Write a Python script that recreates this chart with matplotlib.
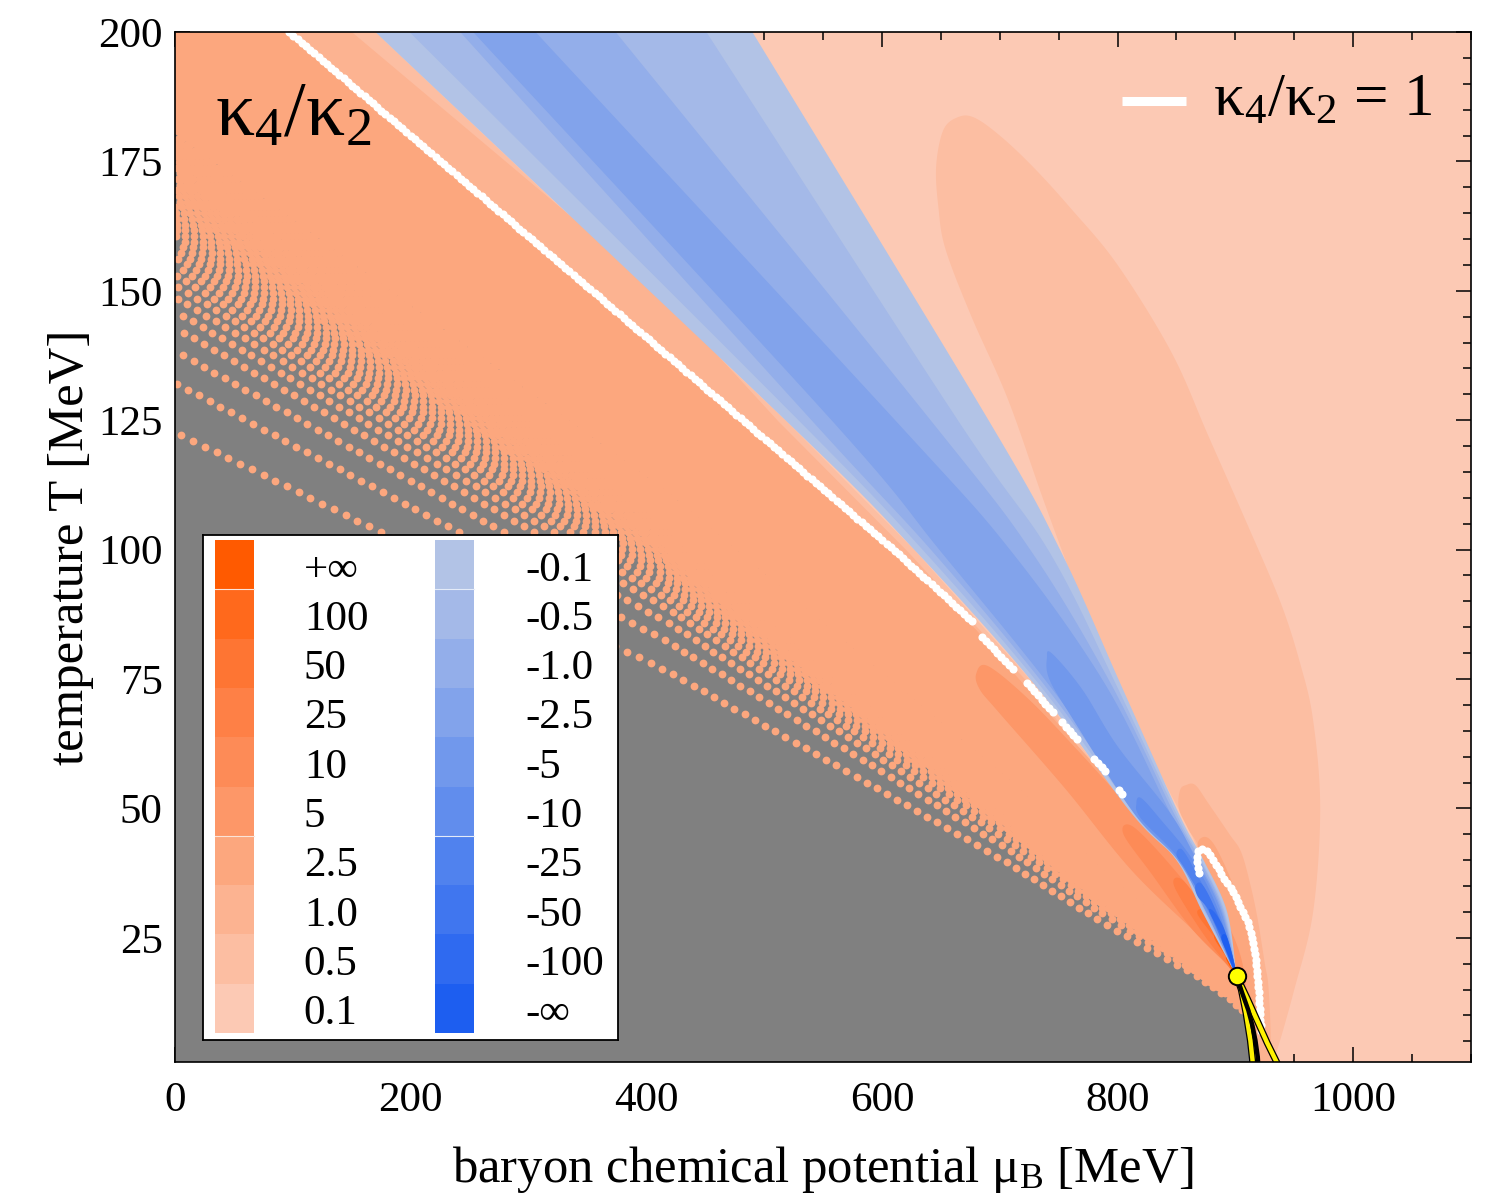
import numpy as np
import matplotlib
matplotlib.use('Agg')
import matplotlib.pyplot as plt
import matplotlib.patheffects as pe
from matplotlib.patches import Polygon, Rectangle
from matplotlib.ticker import MultipleLocator

plt.rcParams['font.family'] = ['Liberation Serif', 'DejaVu Serif']
plt.rcParams['mathtext.fontset'] = 'custom'
plt.rcParams['mathtext.rm'] = 'Liberation Serif'
plt.rcParams['mathtext.it'] = 'Liberation Serif:italic'

# ---- colour scale of kappa4/kappa2 ----
pos_labels = ['+∞', '100', '50', '25', '10', '5', '2.5', '1.0', '0.5', '0.1']
pos_colors = ['#FF5A00', '#FF691C', '#FE7533', '#FE8046', '#FD8B57', '#FD9768',
              '#FCA77E', '#FCB391', '#FCBEA2', '#FCC9B4']
neg_labels = ['-0.1', '-0.5', '-1.0', '-2.5', '-5', '-10', '-25', '-50', '-100', '-∞']
neg_colors = ['#B2C3E6', '#A4B9E8', '#93AEEA', '#82A3EB', '#7198EC', '#618DED',
              '#5082EE', '#4076EF', '#2F6AF0', '#1D5EF0']
col = dict(zip(pos_labels + neg_labels, pos_colors + neg_colors))
gray = '#808080'

# critical point (mu_B, T)
cp = (901, 17.6)

# kappa4/kappa2 = 1 contour (white), split where it breaks up
unity_segments = [
    [(97, 200), (354, 150), (612, 99.6), (679, 85.6)],
    [(685, 83.1), (712, 76.8)],
    [(723, 74.2), (745, 68.6)],
    [(753, 66.6), (768, 62.9)],
    [(780, 59.6), (790, 57.2)],
    [(801, 53.6), (807, 52.0)],
]
unity_loop = [(869, 37.5), (867, 40), (868, 41.8), (872, 42.2), (877, 41.8), (881, 40),
              (889, 37), (897, 34.3), (904, 31), (911, 27.9), (915, 24), (917, 21.5),
              (919, 17), (919.5, 15), (920.5, 12), (921, 9.1), (922, 6)]

# negative wedge: band edges (mu_B) at these temperatures
wedge_T = [200, 124.8, 99.6, 73.8, 49, 40, 30, 17.6]
wedge_left = [
    [170, 519, 629, 730, 812, 850, 872, 901],   # -0.1
    [199, 530, 636, 734, 815, 852, 874, 901],   # -0.5
    [242, 541, 643, 738, 818, 854, 876, 901],   # -1.0
    [253, 558, 650, 742, 821, 856, 878, 901],   # -2.5
]
wedge_right = [
    [490, 691, 752, 803, 852, 873, 893, 901],
    [451, 665, 742, 799, 850, 871, 891, 901],
    [374, 642, 727, 795, 848, 870, 890, 901],
    [306, 612, 710, 790, 845, 868, 889, 901],
]
wedge_core = {
    '-5': [(740, 79), (744, 80), (770, 73), (800, 62), (845, 49), (867, 40), (888, 30),
           (901, 17.6), (898, 19), (875, 30), (851, 40), (814, 49), (760, 68), (742, 75)],
    '-10': [(816, 51), (820, 52), (836, 48), (864, 40), (886, 30), (901, 17.6), (899, 19),
            (877, 30), (853, 40), (820, 48)],
    '-25': [(850, 41), (855, 42), (868, 37), (888, 28), (901, 17.6), (896, 20), (878, 30),
            (858, 38)],
    '-50': [(866, 35), (871, 35.5), (880, 32), (892, 25), (901, 17.6), (893, 22), (878, 30),
            (868, 33)],
    '-100': [(878, 30), (882, 30), (890, 27), (897, 22), (901, 17.6), (891, 24)],
    '-∞': [(888, 25), (892, 25.5), (897, 22), (901, 17.6), (893, 22)],
}

# positive side
ellipse_05 = [(664, 183.5), (652, 181), (646, 174), (648, 166), (654, 158), (676, 145),
              (707, 129), (738, 109), (769, 90), (795, 75), (840, 55), (869, 41.5),
              (895, 22), (901, 17.6), (915, 1), (930, 1), (935, 3), (950, 15), (966, 30),
              (972, 50), (966, 67), (955, 78), (938, 90), (908, 106), (877, 122),
              (846, 138), (800, 155), (760, 166), (728, 174), (700, 180), (678, 183.5)]
lobe_right = {
    '1.0': [(852, 50), (853, 53.5), (858, 54.5), (866, 54.5), (877, 51), (895, 45),
            (905, 41.5), (913, 35), (919, 28.5), (925, 20), (928, 15.7), (930, 6),
            (929, 0), (915, 0), (901, 17.6), (873, 40), (860, 46)],
    '2.5': [(868, 43), (874, 44.5), (882, 43), (893, 38), (903, 32), (911, 25), (916, 16),
            (918, 6), (917, 0), (915, 0), (901, 17.6), (885, 28), (873, 38)],
    '5': [(886, 30), (893, 28), (905, 21), (911, 12), (913, 4), (912, 0), (906, 5),
          (901, 17.6)],
}
band_05 = [(0, 0), (0, 200), (170, 200), (519, 124.8), (629, 99.6), (730, 73.8), (812, 49),
           (850, 40), (872, 30), (901, 17.6), (916, 0)]
band_10 = [(0, 0), (0, 200), (150, 200), (408, 150.6), (512, 124.8), (622, 99.6),
           (726, 73.8), (809, 49), (847, 40), (869, 30), (901, 17.6), (916, 0)]
band_25 = [(0, 0), (0, 200), (97, 200), (354, 150), (612, 99.6), (680, 84.5), (743, 68),
           (790, 56), (818, 48), (850, 38), (878, 28), (901, 17.6), (916, 0)]
lobe_left = {
    '5': [(680, 76), (690, 77.5), (725, 71), (767, 61), (807, 51), (840, 43), (870, 33),
          (901, 17.6), (897, 18.8), (869, 25.4), (812, 38), (756, 53.7), (699, 68.6),
          (683, 73)],
    '10': [(805, 45), (813, 46.5), (845, 39), (875, 30), (901, 17.6), (892, 20), (862, 27),
           (830, 37)],
    '25': [(848, 35), (856, 36), (880, 28), (901, 17.6), (894, 19.5), (872, 26)],
    '50': [(868, 29.5), (876, 30), (892, 24), (901, 17.6), (889, 23)],
    '100': [(882, 25), (888, 25.5), (901, 17.6), (893, 21)],
    '+∞': [(892, 21), (896, 21.5), (901, 17.6)],
}

# sampled rows in the gas region: T at mu_B = 0 and common row shape;
# points along each row sit on a fixed temperature grid
row_T0 = [122.7, 132.2, 138.4, 142.9, 146.1, 148.8, 151.1, 153.1, 154.9, 156.5, 158.0,
          159.4, 160.7, 161.9, 163.0, 164.1, 165.1, 166.1, 167.0, 167.9, 168.8, 169.6,
          170.4, 171.2, 172.0, 172.7, 173.4, 174.1, 174.8, 175.5, 176.1, 176.7, 177.3,
          177.9, 178.5, 179.1, 179.7, 180.3]
row_mu_end = 920
row_x = [0, 0.455, 0.649, 0.772, 0.852, 0.945, 0.975, 0.99]
row_g = [1, 0.623, 0.438, 0.318, 0.232, 0.141, 0.105, 0.08]
row_h = [1, 0.6, 0.4, 0.28, 0.18, 0.08, 0.05, 0.03]
row_T_step = 1.1

# transition lines below the critical point
coex_line = [(901, 17.6), (906, 14.2), (911, 11), (914.5, 8), (917, 5.2), (919, 2), (919.5, 0)]
spin_left = [(901, 17.6), (905, 15), (909, 10.5), (912.7, 5.2), (914.5, 1.5), (915, 0)]
spin_right = [(901, 17.6), (910, 13.3), (919.5, 8.5), (927, 4.7), (935, 1), (937, 0)]


def smooth(pts, closed=True, n=12):
    # Catmull-Rom spline through the outline vertices
    p = np.asarray(pts, float)
    q = np.vstack([p[-1], p, p[0], p[1]]) if closed else np.vstack([p[0], p, p[-1]])
    t = np.linspace(0, 1, n, endpoint=False)[:, None]
    out = []
    for i in range(1, len(q) - 2):
        p0, p1, p2, p3 = q[i - 1], q[i], q[i + 1], q[i + 2]
        out.append(0.5 * (2 * p1 + (p2 - p0) * t + (2 * p0 - 5 * p1 + 4 * p2 - p3) * t ** 2
                          + (3 * p1 - p0 - 3 * p2 + p3) * t ** 3))
    if not closed:
        out.append(p[-1][None])
    return np.vstack(out)


fig = plt.figure(figsize=(14.96, 11.98), dpi=100)
ax = fig.add_axes([0.117, 0.1135, 0.8663, 0.8598])
ax.set_xlim(0, 1100)
ax.set_ylim(1, 200)
ax.set_facecolor(col['0.1'])


def fill(pts, color, z):
    ax.add_patch(Polygon(pts, closed=True, facecolor=color, edgecolor='none', zorder=z))


fill(smooth(ellipse_05), col['0.5'], 1)
for k, z in zip(['1.0', '2.5', '5'], [1.1, 1.2, 1.3]):
    fill(smooth(lobe_right[k]), col[k], z)
fill(band_05, col['0.5'], 2)
fill(band_10, col['1.0'], 2.1)
fill(band_25, col['2.5'], 2.2)
for i, k in enumerate(['5', '10', '25', '50', '100', '+∞']):
    fill(smooth(lobe_left[k]), col[k], 2.3 + 0.01 * i)

for i, k in enumerate(['-0.1', '-0.5', '-1.0', '-2.5']):
    left = smooth(list(zip(wedge_left[i], wedge_T)), closed=False)
    right = smooth(list(zip(wedge_right[i], wedge_T)), closed=False)[::-1]
    fill(np.vstack([left, right]), col[k], 3 + 0.01 * i)
for i, k in enumerate(['-5', '-10', '-25', '-50', '-100', '-∞']):
    fill(smooth(wedge_core[k]), col[k], 3.1 + 0.01 * i)

to_px = ax.transData.transform
to_data = ax.transData.inverted().transform


def row_curve(T0, xs):
    return (xs * row_mu_end,
            122.7 * np.interp(xs, row_x, row_g) + (T0 - 122.7) * np.interp(xs, row_x, row_h))


# gas region: gray background under the sampled rows
xs_top = np.linspace(0, 0.99, 300)
mu_top, T_top = row_curve(row_T0[-1], xs_top)
gray_pts = [(0, 0)] + list(zip(mu_top, T_top)) + [(913, 8), (914.5, 0)]
fill(gray_pts, gray, 4)

T_grid = np.arange(row_T_step, 200, row_T_step)
dot_mu, dot_T = [], []
for T0 in row_T0:
    xs = np.linspace(0, 0.99, 2000)
    mu, T = row_curve(T0, xs)
    Tj = T_grid[(T_grid >= T.min()) & (T_grid <= T.max())]
    dot_mu.append(np.interp(Tj, T[::-1], mu[::-1]))
    dot_T.append(Tj)
dot_mu = np.concatenate(dot_mu)
dot_T = np.concatenate(dot_T)
ax.scatter(dot_mu, dot_T, s=(7.8 * 0.72) ** 2, color=col['2.5'], linewidths=0, zorder=5)


def bead(pts, step):
    pix = to_px(np.array(pts, dtype=float))
    seg = np.hypot(*np.diff(pix, axis=0).T)
    cum = np.concatenate([[0], np.cumsum(seg)])
    s = np.arange(0, cum[-1] + 0.1, step)
    q = np.column_stack([np.interp(s, cum, pix[:, 0]), np.interp(s, cum, pix[:, 1])])
    return to_data(q)


for seg in unity_segments + [unity_loop]:
    b = bead(seg, 5.5)
    ax.scatter(b[:, 0], b[:, 1], s=34, color='white', linewidths=0, zorder=6)

# transition lines and critical point
for line in (spin_left, spin_right):
    m, t = zip(*line)
    ax.plot(m, t, color='#FFF200', lw=3.2, solid_capstyle='butt', zorder=7,
            path_effects=[pe.Stroke(linewidth=5.0, foreground='black'), pe.Normal()])
m, t = zip(*coex_line)
ax.plot(m, t, color='black', lw=3.2, zorder=7.5)
ax.plot([cp[0]], [cp[1]], 'o', ms=12.5, mfc='#FFFF00', mec='black', mew=1.4, zorder=8)

# axes styling
ax.xaxis.set_major_locator(MultipleLocator(200))
ax.xaxis.set_minor_locator(MultipleLocator(50))
ax.yaxis.set_major_locator(MultipleLocator(25))
ax.yaxis.set_minor_locator(MultipleLocator(5))
ax.tick_params(which='both', direction='in', top=True, right=True, width=1.1,
               labelsize=31, zorder=10)
ax.tick_params(which='major', length=11)
ax.tick_params(which='minor', length=5.5)
ax.tick_params(axis='x', pad=14)
ax.tick_params(axis='y', pad=9)
for sp in ax.spines.values():
    sp.set_linewidth(1.2)
    sp.set_zorder(10)
ax.set_xlabel(r'baryon chemical potential $\mathregular{μ_B}$ [MeV]', fontsize=36.5,
              labelpad=17)
ax.set_ylabel('temperature T [MeV]', fontsize=36.5, labelpad=3)

ax.text(0.031, 0.900, r'$\mathregular{κ_4/κ_2}$', transform=ax.transAxes, fontsize=56,
        ha='left', va='baseline', zorder=9)
ax.plot([0.731, 0.780], [0.933, 0.933], transform=ax.transAxes, color='white', lw=6.5,
        solid_capstyle='butt', zorder=9)
ax.text(0.801, 0.933, r'$\mathregular{κ_4/κ_2}$ = 1', transform=ax.transAxes, fontsize=44,
        ha='left', va='center', zorder=9)

# colour legend
lax = fig.add_axes([0.1357, 0.1319, 0.2774, 0.4215])
lax.set_xlim(0, 1)
lax.set_ylim(0, 1)
lax.set_xticks([])
lax.set_yticks([])
lax.set_facecolor('white')
for sp in lax.spines.values():
    sp.set_linewidth(1.3)
top, bot = 0.990, 0.0139
hb = (top - bot) / len(pos_labels)
for i in range(len(pos_labels)):
    y0 = top - (i + 1) * hb
    lax.add_patch(Rectangle((0.029, y0), 0.094, hb, facecolor=pos_colors[i], edgecolor='none'))
    lax.add_patch(Rectangle((0.559, y0), 0.094, hb, facecolor=neg_colors[i], edgecolor='none'))
    lax.text(0.243, y0 + hb / 2 - 0.011, pos_labels[i], fontsize=31, ha='left', va='center')
    lax.text(0.776, y0 + hb / 2 - 0.011, neg_labels[i], fontsize=31, ha='left', va='center')
for i in (1, 6):
    y = top - i * hb
    lax.plot([0.029, 0.123], [y, y], color='#FBE3D8', lw=0.8)
    lax.plot([0.559, 0.653], [y, y], color='#E4EBF8', lw=0.8)

fig.savefig('out.png', dpi=100)
